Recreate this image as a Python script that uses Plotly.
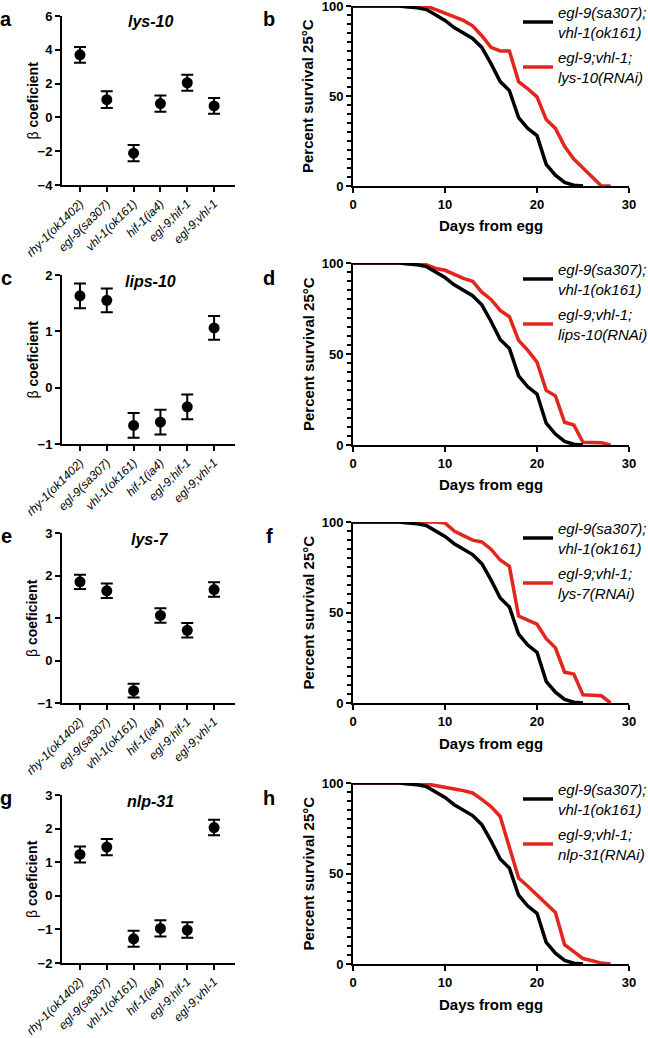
import plotly.graph_objects as go

W, H = 648, 1038
FONT = "Arial, Liberation Sans, Helvetica, sans-serif"
RED = "#e3261c"

# ---------------- data ----------------
strains = ["rhy-1(ok1402)", "egl-9(sa307)", "vhl-1(ok161)",
           "hif-1(ia4)", "egl-9;hif-1", "egl-9;vhl-1"]

genes = ["lys-10", "lips-10", "lys-7", "nlp-31"]

beta_lys10 = [3.70, 1.05, -2.12, 0.82, 2.05, 0.68]
err_lys10 = [0.47, 0.49, 0.48, 0.48, 0.48, 0.47]

beta_lips10 = [1.63, 1.55, -0.67, -0.61, -0.34, 1.06]
err_lips10 = [0.22, 0.21, 0.22, 0.22, 0.22, 0.21]

beta_lys7 = [1.85, 1.64, -0.71, 1.06, 0.71, 1.67]
err_lys7 = [0.17, 0.17, 0.16, 0.17, 0.17, 0.17]

beta_nlp31 = [1.23, 1.45, -1.28, -0.97, -1.02, 2.03]
err_nlp31 = [0.24, 0.24, 0.24, 0.24, 0.23, 0.23]

y_ranges = [[-4, 6], [-1, 2], [-1, 3], [-2, 3]]
y_dticks = [2, 1, 1, 1]

days_ctrl = list(range(0, 26))
surv_ctrl = [100, 100, 100, 100, 100, 100, 99.5, 99, 98, 95, 92, 88, 85, 82, 77,
             68, 58, 53, 38, 32, 28, 12, 6, 2, 0.4, 0]

days_rnai = list(range(0, 29))
surv_lys10 = [100, 100, 100, 100, 100, 100, 100, 100, 100, 98, 96, 94.5, 92, 89,
              83.5, 77, 75, 75, 58, 54, 49.5, 37, 32, 22, 15, 10, 5, 0, 0]
surv_lips10 = [100, 100, 100, 100, 100, 100, 100, 100, 99, 97, 96, 93.5, 91.5, 90,
               84, 80, 74, 70.5, 57.5, 52, 45.5, 30, 27, 12.5, 11, 1.5, 1.5, 1.2, 0]
surv_lys7 = [100, 100, 100, 100, 100, 100, 100, 100, 100, 100, 99.5, 95, 92.5, 90,
             89, 85, 79, 75.5, 48, 46, 43.5, 35.5, 30.5, 17, 16, 4.5, 4.2, 4, 0]
surv_nlp31 = [100, 100, 100, 100, 100, 100, 100, 100, 99.5, 98.7, 97.6, 96.7, 95.8,
              94.5, 91, 87, 81.5, 64, 47.5, 43, 38, 33, 28.5, 10.7, 7, 3, 1.8, 0.5, 0]

ctrl_name = "egl-9(sa307);<br>vhl-1(ok161)"
rnai_names = ["egl-9;vhl-1;<br>lys-10(RNAi)", "egl-9;vhl-1;<br>lips-10(RNAi)",
              "egl-9;vhl-1;<br>lys-7(RNAi)", "egl-9;vhl-1;<br>nlp-31(RNAi)"]

betas = [beta_lys10, beta_lips10, beta_lys7, beta_nlp31]
errs = [err_lys10, err_lips10, err_lys7, err_nlp31]
rnai = [surv_lys10, surv_lips10, surv_lys7, surv_nlp31]
letters = [("a", "b"), ("c", "d"), ("e", "f"), ("g", "h")]

# ---------------- layout geometry (pixels) ----------------
left_x_px = (62, 235)
right_x_px = (353, 629)
left_y_px = [(16, 185), (275, 444), (533, 703), (795, 963)]
right_y_px = [(6, 186), (263, 445), (522, 703), (783, 964)]


def px_x(p):
    return p / W


def px_y(p):
    return 1 - p / H


fig = go.Figure()
layout = dict(
    width=W, height=H, margin=dict(l=0, r=0, t=0, b=0, autoexpand=False),
    paper_bgcolor="white", plot_bgcolor="white",
    font=dict(family=FONT, color="black"),
    showlegend=True,
)
annotations = []

axis_common = dict(showline=True, linecolor="black", linewidth=2, showgrid=False,
                   zeroline=False, ticks="outside", tickcolor="black", tickwidth=2,
                   ticklen=5, mirror=False, automargin=False,
                   ticklabeloverflow="allow")

for r in range(4):
    li, ri = 2 * r + 1, 2 * r + 2
    lx, ly = f"x{li}", f"y{li}"
    rx, ry = f"x{ri}", f"y{ri}"
    lkey = "" if li == 1 else str(li)
    rkey = str(ri)

    # ----- left: beta coefficient -----
    fig.add_trace(go.Scatter(
        x=strains, y=betas[r], mode="markers", xaxis=lx, yaxis=ly,
        marker=dict(color="black", size=11),
        error_y=dict(type="data", array=errs[r], color="black", thickness=2, width=6),
        showlegend=False, cliponaxis=False, hoverinfo="skip",
    ))
    layout["xaxis" + lkey] = dict(
        axis_common, domain=[px_x(left_x_px[0]), px_x(left_x_px[1])], anchor=ly,
        type="category", range=[-0.67, 5.78], tickangle=-45,
        tickfont=dict(size=12, style="italic", family=FONT, color="black"),
    )
    layout["yaxis" + lkey] = dict(
        axis_common,
        domain=[px_y(left_y_px[r][1]), px_y(left_y_px[r][0])], anchor=lx,
        range=y_ranges[r], dtick=y_dticks[r], tick0=0,
        tickfont=dict(size=13, weight="bold", family=FONT, color="black"),
    )

    # ----- right: survival -----
    leg = "legend" if r == 0 else f"legend{r + 1}"
    fig.add_trace(go.Scatter(
        x=days_rnai, y=rnai[r], mode="lines", xaxis=rx, yaxis=ry,
        line=dict(color=RED, width=3.5), name=rnai_names[r], legend=leg,
        legendrank=2, legendgroup=f"rnai{r}", hoverinfo="skip",
    ))
    fig.add_trace(go.Scatter(
        x=days_ctrl, y=surv_ctrl, mode="lines", xaxis=rx, yaxis=ry,
        line=dict(color="black", width=3.5), name=ctrl_name, legend=leg,
        legendrank=1, legendgroup=f"ctrl{r}", hoverinfo="skip",
    ))
    layout["xaxis" + rkey] = dict(
        axis_common, domain=[px_x(right_x_px[0]), px_x(right_x_px[1])], anchor=ry,
        range=[0, 30], tickvals=[0, 10, 20, 30],
        tickfont=dict(size=13, weight="bold", family=FONT, color="black"),
    )
    layout["yaxis" + rkey] = dict(
        axis_common,
        domain=[px_y(right_y_px[r][1]), px_y(right_y_px[r][0])], anchor=rx,
        range=[0, 100], tickvals=[0, 50, 100],
        minor=dict(dtick=5, tick0=0, ticks="outside", ticklen=4, tickwidth=1.5,
                   tickcolor="black", showgrid=False),
        tickfont=dict(size=13, weight="bold", family=FONT, color="black"),
    )
    layout[leg] = dict(
        x=px_x(518), y=px_y(right_y_px[r][0] - 10), xanchor="left", yanchor="top",
        bgcolor="rgba(0,0,0,0)", borderwidth=0, itemwidth=30, valign="middle",
        font=dict(size=15, style="italic", family=FONT, color="black"),
        traceorder="grouped", tracegroupgap=3,
    )

    # ----- annotations -----
    ytop_l, ybot_l = left_y_px[r]
    ytop_r, ybot_r = right_y_px[r]
    annotations.append(dict(text=f"<b>{letters[r][0]}</b>", x=px_x(6), y=px_y(ytop_l + 3),
                            xref="paper", yref="paper", showarrow=False,
                            xanchor="center", yanchor="middle",
                            font=dict(size=20, family=FONT, color="black")))
    annotations.append(dict(text=f"<b>{letters[r][1]}</b>", x=px_x(269), y=px_y(ytop_l + 3),
                            xref="paper", yref="paper", showarrow=False,
                            xanchor="center", yanchor="middle",
                            font=dict(size=20, family=FONT, color="black")))
    annotations.append(dict(text=f"<b><i>{genes[r]}</i></b>", x=px_x(150), y=px_y(ytop_l + 6),
                            xref="paper", yref="paper", showarrow=False,
                            xanchor="center", yanchor="middle",
                            font=dict(size=16, family=FONT, color="black")))
    annotations.append(dict(text="β <b>coeficient</b>", x=px_x(32),
                            y=px_y((ytop_l + ybot_l) / 2), textangle=-90,
                            xref="paper", yref="paper", showarrow=False,
                            xanchor="center", yanchor="middle",
                            font=dict(size=14, family=FONT, color="black")))
    annotations.append(dict(text="<b>Percent survival 25°C</b>", x=px_x(308),
                            y=px_y((ytop_r + ybot_r) / 2), textangle=-90,
                            xref="paper", yref="paper", showarrow=False,
                            xanchor="center", yanchor="middle",
                            font=dict(size=15, family=FONT, color="black")))
    annotations.append(dict(text="<b>Days from egg</b>", x=px_x(491),
                            y=px_y(ybot_r + 40),
                            xref="paper", yref="paper", showarrow=False,
                            xanchor="center", yanchor="middle",
                            font=dict(size=15, family=FONT, color="black")))

layout["annotations"] = annotations
fig.update_layout(**layout)
# remove the browser's default 8px body margin so the figure sits at the page origin
fig.write_html("out.html", config={"displayModeBar": False},
               post_script="document.body.style.margin='0';document.body.style.overflow='hidden';")
